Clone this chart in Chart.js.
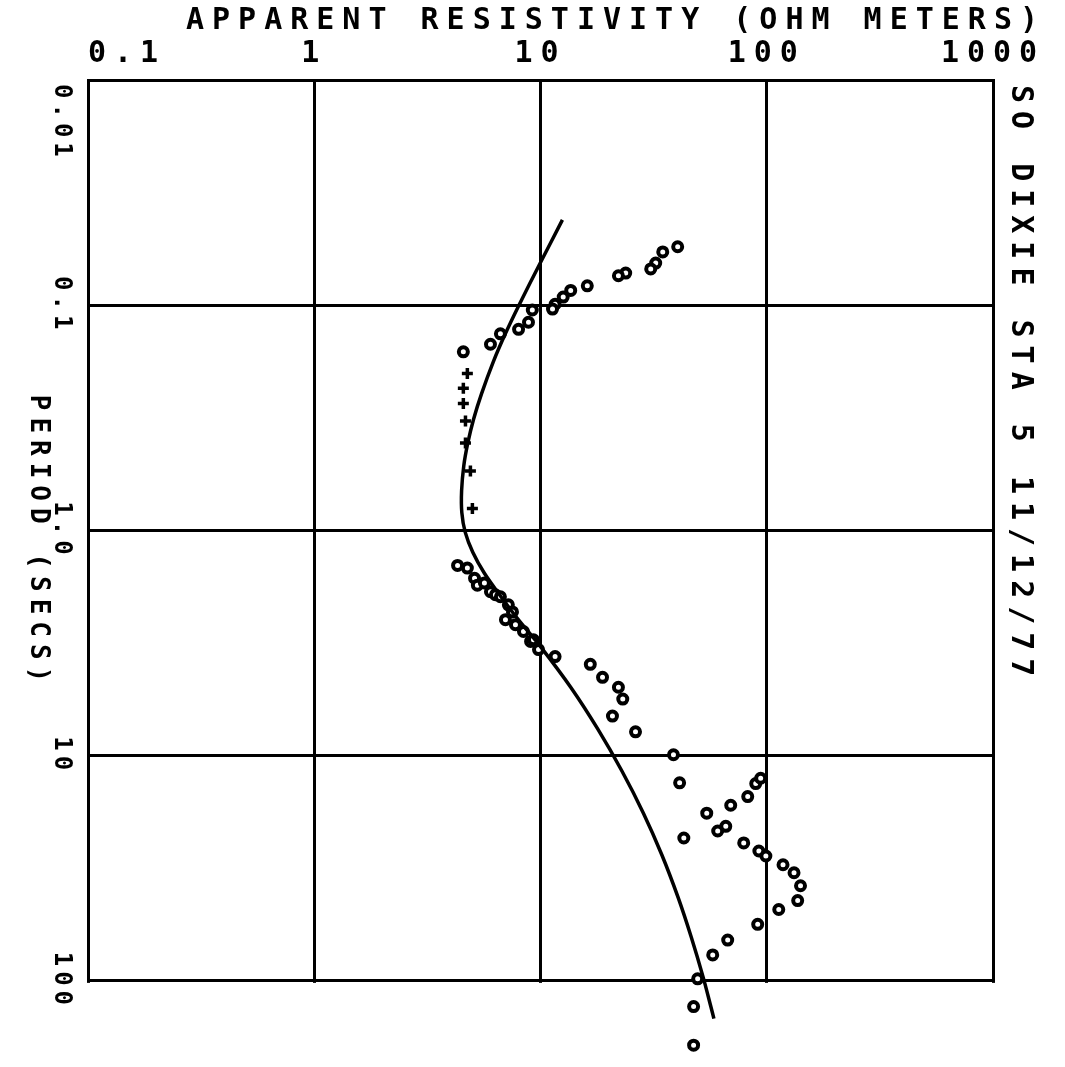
<!DOCTYPE html>
<html>
<head>
<meta charset="utf-8">
<script src="https://cdn.jsdelivr.net/npm/chart.js@4.4.1/dist/chart.umd.min.js"></script>
<style>
  html, body { margin: 0; padding: 0; background: #fff; }
</style>
</head>
<body>
<canvas id="mtChart" width="1065" height="1067"></canvas>
<script>
// axis ticks (decades only)
const xTicks = [0.1, 1, 10, 100, 1000];
const xTickLabels = ['0.1', '1', '10', '100', '1000'];
const yTicks = [0.01, 0.1, 1, 10, 100];
const yTickLabels = ['0.01', '0.1', '1.0', '10', '100'];

// model curve: apparent resistivity vs period
const curveRho = [12.5, 10.0, 7.99, 6.99, 6.19, 5.49, 5.06, 4.77, 4.58, 4.48, 4.49, 4.65, 5.02, 5.65,
  6.59, 7.93, 10.0, 13.6, 17.9, 22.9, 28.5, 34.4, 40.6, 46.4, 52.3, 56.6, 58.4];
const curvePeriod = [0.0418, 0.0646, 0.101, 0.134, 0.178, 0.247, 0.321, 0.410, 0.517, 0.666, 0.833, 1.02, 1.25, 1.55,
  1.93, 2.47, 3.28, 4.97, 7.61, 11.7, 18.0, 27.6, 42.7, 64.0, 96.0, 130, 147];

// measured values, circle symbols
const circleRho = [40.4, 34.7, 32.3, 30.7, 23.8, 22.1, 16.1, 13.6, 12.6, 11.6, 11.3, 9.2, 8.85, 8.0, 6.65, 6.01, 4.56,
  4.30, 4.75, 5.11, 5.26, 5.65, 6.01, 6.32, 6.65, 7.21, 7.52, 7.0, 7.75, 8.41, 9.04, 9.31, 9.8, 11.6,
  16.6, 18.8, 22.1, 23.1, 20.8, 26.3, 38.7,
  41.2, 54.3, 69.3, 82.4, 89.4, 94.0, 65.9, 60.7, 43.0, 79.1, 92.3, 99.1, 118, 132, 141, 137, 113, 91.2,
  67.2, 57.7, 49.5, 47.5, 47.5];
const circlePeriod = [0.055, 0.058, 0.065, 0.069, 0.072, 0.074, 0.082, 0.086, 0.092, 0.099, 0.104, 0.105, 0.119, 0.128, 0.134, 0.149, 0.161,
  1.43, 1.47, 1.63, 1.75, 1.71, 1.87, 1.93, 1.97, 2.14, 2.30, 2.49, 2.62, 2.81, 3.11, 3.06, 3.38, 3.63,
  3.93, 4.49, 4.97, 5.61, 6.67, 7.84, 9.91,
  13.2, 18.0, 16.6, 15.2, 13.3, 12.6, 20.6, 21.6, 23.2, 24.4, 26.5, 27.9, 30.5, 33.1, 37.8, 44.0, 48.2, 56.1,
  65.9, 76.7, 97.9, 130, 193];

// measured values, plus symbols
const crossRho = [4.75, 4.56, 4.56, 4.66, 4.66, 4.90, 5.0];
const crossPeriod = [0.201, 0.234, 0.273, 0.327, 0.409, 0.545, 0.800];

const toPoints = (xs, ys) => xs.map((x, i) => ({ x: x, y: ys[i] }));

const plotFont = '"DejaVu Sans Mono", "Liberation Mono", monospace';

function drawDown(ctx, text, x, y, align) {
    ctx.save();
    ctx.translate(x, y);
    ctx.rotate(Math.PI / 2);
    ctx.textAlign = align;
    ctx.textBaseline = 'middle';
    ctx.fillText(text, 0, 0);
    ctx.restore();
}

// plotter style texts + cut-off below the last period line
const plotterText = {
    id: 'plotterText',
    beforeDraw(chart) {
        chart.ctx.letterSpacing = '8px';
    },
    beforeDatasetsDraw(chart) {
        const ctx = chart.ctx;
        const yEdge = chart.scales.y.getPixelForValue(yTicks[yTicks.length - 1]) + 2;
        ctx.save();
        ctx.fillStyle = '#fff';
        ctx.fillRect(0, yEdge, chart.width, chart.height - yEdge);
        ctx.restore();
    },
    afterDraw(chart) {
        const ctx = chart.ctx;
        const yScale = chart.scales.y;
        ctx.save();
        ctx.fillStyle = '#000';
        ctx.letterSpacing = '8px';
        ctx.font = 'bold 30px ' + plotFont;
        ctx.textAlign = 'left';
        ctx.textBaseline = 'middle';
        ctx.fillText('APPARENT RESISTIVITY (OHM METERS)', 186, 21);
        drawDown(ctx, 'SO DIXIE STA 5 11/12/77', 1020, 85, 'left');

        ctx.letterSpacing = '5px';
        ctx.font = 'bold 24px ' + plotFont;
        yTicks.forEach((v, i) => {
            const py = yScale.getPixelForValue(v);
            if (i === 0) drawDown(ctx, yTickLabels[i], 61, py + 4, 'left');
            else drawDown(ctx, yTickLabels[i], 61, py, 'center');
        });
        ctx.letterSpacing = '7px';
        ctx.font = 'bold 26px ' + plotFont;
        drawDown(ctx, 'PERIOD (SECS)', 38, 542, 'center');
        ctx.restore();
    }
};

const ctx = document.getElementById('mtChart').getContext('2d');
new Chart(ctx, {
    type: 'scatter',
    data: {
        datasets: [{
            label: 'model',
            data: toPoints(curveRho, curvePeriod),
            showLine: true,
            borderColor: '#000',
            borderWidth: 3.5,
            pointRadius: 0,
            tension: 0.3,
            clip: false
        }, {
            label: 'circles',
            data: toPoints(circleRho, circlePeriod),
            pointStyle: 'circle',
            pointRadius: 4.5,
            borderWidth: 4,
            borderColor: '#000',
            backgroundColor: '#fff',
            clip: false
        }, {
            label: 'plus',
            data: toPoints(crossRho, crossPeriod),
            pointStyle: 'cross',
            pointRadius: 5.5,
            borderWidth: 3.5,
            borderColor: '#000',
            clip: false
        }]
    },
    options: {
        responsive: false,
        animation: false,
        events: [],
        layout: { padding: { left: 0, top: 0, right: 72, bottom: 0 } },
        plugins: {
            legend: { display: false },
            tooltip: { enabled: false }
        },
        scales: {
            x: {
                type: 'logarithmic',
                position: 'top',
                min: 0.1,
                max: 1000,
                afterBuildTicks: s => { s.ticks = xTicks.map(v => ({ value: v })); },
                afterFit: s => { s.height = 80; },
                ticks: {
                    autoSkip: false,
                    maxRotation: 0,
                    padding: 8,
                    color: '#000',
                    font: { family: plotFont, size: 30, weight: 'bold' },
                    // first label starts at the frame like the plotter did
                    callback: (v, i) => i === 0 ? '   ' + xTickLabels[i] : xTickLabels[i]
                },
                grid: { color: '#000', lineWidth: 3, drawTicks: false },
                border: { color: '#000', width: 3 }
            },
            y: {
                type: 'logarithmic',
                position: 'left',
                reverse: true,
                min: 0.01,
                max: 220,
                afterBuildTicks: s => { s.ticks = yTicks.map(v => ({ value: v })); },
                afterFit: s => { s.width = 88; },
                ticks: { display: false },
                grid: { color: '#000', lineWidth: 3, drawTicks: false },
                border: { color: '#000', width: 3 }
            }
        }
    },
    plugins: [plotterText]
});
</script>
</body>
</html>
